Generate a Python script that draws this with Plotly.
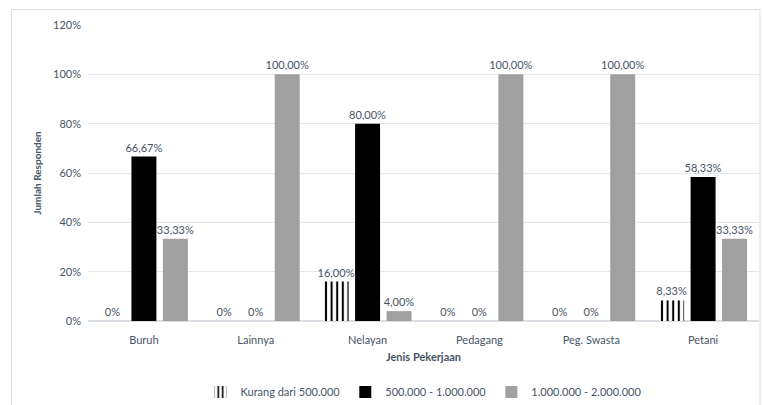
import plotly.graph_objects as go

# Income distribution by occupation (percent of respondents)
categories = ["Buruh", "Lainnya", "Nelayan", "Pedagang", "Peg. Swasta", "Petani"]
series_names = ["Kurang dari 500.000", "500.000 - 1.000.000", "1.000.000 - 2.000.000"]
kurang_500rb = [0, 0, 16.00, 0, 0, 8.33]
rb500_1jt = [66.67, 0, 80.00, 0, 0, 58.33]
jt1_2jt = [33.33, 100.00, 4.00, 100.00, 100.00, 33.33]
y_ticks = [0, 20, 40, 60, 80, 100, 120]
y_tick_labels = ["0%", "20%", "40%", "60%", "80%", "100%", "120%"]


def pct_label(v):
    return "0%" if v == 0 else f"{v:.2f}".replace(".", ",") + "%"


TEXT = "#475466"
FONT = "Lato, 'Open Sans', sans-serif"

fig = go.Figure()
styles = [
    dict(color="white", pattern=dict(shape="|", fgcolor="black", bgcolor="white",
                                     size=5.6, solidity=0.36, fillmode="replace")),
    dict(color="black"),
    dict(color="#a0a0a0"),
]
for name, vals, st in zip(series_names, [kurang_500rb, rb500_1jt, jt1_2jt], styles):
    fig.add_trace(go.Bar(
        x=categories, y=vals, name=name,
        marker=dict(line=dict(width=0), **st),
        text=[pct_label(v) for v in vals],
        textposition="outside", cliponaxis=False, constraintext="none",
        textfont=dict(size=11, color=TEXT, family=FONT),
    ))

W, H = 763, 405
ml, mr, mt, mb = 88, 4, 25, 84
pw, ph = W - ml - mr, H - mt - mb


def px_x(x):
    return (x - ml) / pw


def px_y(y):
    return (H - mb - y) / ph


fig.update_layout(
    width=W, height=H,
    margin=dict(l=ml, r=mr, t=mt, b=mb, autoexpand=False),
    paper_bgcolor="white", plot_bgcolor="white",
    barmode="group", bargap=0.156, bargroupgap=0.206,
    font=dict(family=FONT, color=TEXT, size=11),
    showlegend=True,
    legend=dict(orientation="h", x=0.5, xanchor="center", y=px_y(392), yanchor="middle",
                font=dict(size=11, color=TEXT), itemwidth=30, traceorder="normal"),
    xaxis=dict(showline=False, ticks="", tickfont=dict(size=11, color=TEXT),
               ticklabelstandoff=11, automargin=False,
               title=dict(text="<b>Jenis Pekerjaan</b>", font=dict(size=11, color=TEXT), standoff=8)),
    yaxis=dict(range=[0, 120], tickvals=y_ticks, ticktext=y_tick_labels, showgrid=True,
               gridcolor="#e3e6eb", gridwidth=1, zeroline=True, zerolinecolor="#dadde2",
               showline=False, tickfont=dict(size=11, color=TEXT), ticklabelstandoff=6,
               automargin=False,
               title=dict(text="<b>Jumlah Responden</b>", font=dict(size=10, color=TEXT), standoff=9)),
    shapes=[dict(type="rect", xref="paper", yref="paper",
                 x0=px_x(11.5), x1=px_x(760), y0=px_y(412), y1=px_y(9.5),
                 line=dict(color="#d9dde3", width=1), fillcolor="rgba(0,0,0,0)", layer="below")],
)

fig.write_html("out.html")
